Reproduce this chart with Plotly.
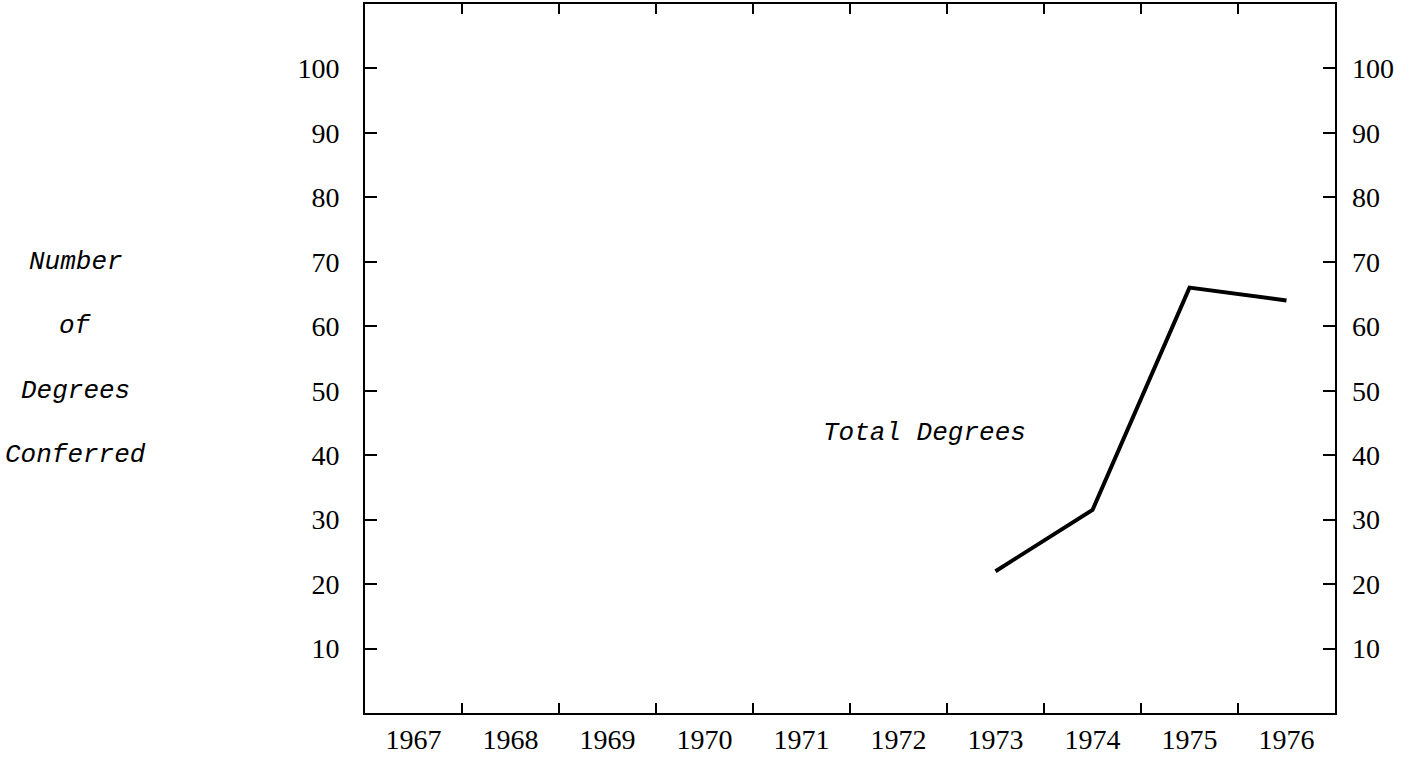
import plotly.graph_objects as go

years = ["1967", "1968", "1969", "1970", "1971", "1972", "1973", "1974", "1975", "1976"]
total_years = ["1973", "1974", "1975", "1976"]
total_degrees = [22, 31.5, 66, 64]
y_ticks = [10, 20, 30, 40, 50, 60, 70, 80, 90, 100]
y_title_lines = ["Number", "of", "Degrees", "Conferred"]
y_title_levels = [70, 60, 50, 40]
series_label = "Total Degrees"

num_font = dict(family="Liberation Serif, Times New Roman, serif", size=28, color="black")
ital_font = dict(family="Liberation Mono, Courier New, monospace", size=26, color="black")

fig = go.Figure()
fig.add_trace(go.Scatter(
    x=total_years, y=total_degrees, mode="lines",
    line=dict(color="black", width=4), showlegend=False, hoverinfo="skip",
))
fig.add_trace(go.Scatter(
    x=total_years, y=total_degrees, mode="lines", yaxis="y2",
    line=dict(color="rgba(0,0,0,0)", width=0), showlegend=False, hoverinfo="skip",
))

for txt, lvl in zip(y_title_lines, y_title_levels):
    fig.add_annotation(
        text="<i>" + txt + "</i>", xref="paper", yref="y", x=-0.298, y=lvl,
        xanchor="center", yanchor="middle", showarrow=False, font=ital_font,
    )

fig.add_annotation(
    text="<i>" + series_label + "</i>", xref="paper", yref="y", x=0.577, y=43.4,
    xanchor="center", yanchor="middle", showarrow=False, font=ital_font,
)

fig.update_layout(
    width=1414, height=765,
    margin=dict(l=365, r=79, t=4, b=52, autoexpand=False),
    paper_bgcolor="white", plot_bgcolor="white",
    showlegend=False,
    xaxis=dict(
        type="category", categoryorder="array", categoryarray=years,
        tickvals=years, ticktext=years,
        range=[-0.5, 9.5], tickson="boundaries",
        ticks="inside", ticklen=10, tickwidth=1.5, tickcolor="black",
        showline=True, linecolor="black", linewidth=2, mirror="ticks",
        showgrid=False, zeroline=False, automargin=False,
        tickfont=num_font, ticklabelstandoff=0,
    ),
    yaxis=dict(
        range=[0, 110], tickvals=y_ticks, ticktext=[str(v) for v in y_ticks],
        ticks="inside", ticklen=12, tickwidth=1.5, tickcolor="black",
        showline=True, linecolor="black", linewidth=2, mirror=True,
        showgrid=False, zeroline=False, automargin=False,
        tickfont=num_font, ticklabelstandoff=18,
    ),
    yaxis2=dict(
        range=[0, 110], tickvals=y_ticks, ticktext=[str(v) for v in y_ticks],
        overlaying="y", side="right", anchor="x",
        ticks="inside", ticklen=12, tickwidth=1.5, tickcolor="black",
        showline=False, showgrid=False, zeroline=False, automargin=False,
        tickfont=num_font, ticklabelstandoff=16,
    ),
)

fig.write_html(
    "out.html",
    config={"displayModeBar": False},
    post_script="document.body.style.margin='0';document.body.style.overflow='hidden';",
)
